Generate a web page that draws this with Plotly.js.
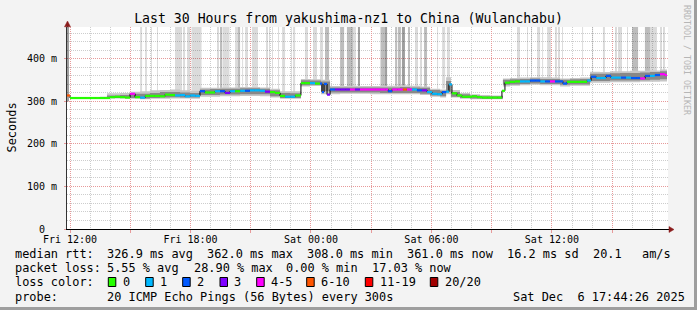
<!DOCTYPE html>
<html><head><meta charset="utf-8">
<script src="https://cdn.plot.ly/plotly-3.0.1.min.js"></script>
<style>html,body{margin:0;padding:0;background:#f3f3f3;overflow:hidden}#chart{width:697px;height:310px}</style>
</head><body><div id="chart"></div>
<script>
// ---------- data (hours since Fri 12:00) ----------
const tickHours = [0,3,6,9,12,15,18,21,24,27];
const tickLabels = ['Fri 12:00','','Fri 18:00','','Sat 00:00','','Sat 06:00','','Sat 12:00',''];
const yTickVals = [0,100,200,300,400];
const yTickLabels = ['0\u00a0\u00a0','100 m','200 m','300 m','400 m'];

const lossLabels = ['0','1','2','3','4-5','6-10','11-19','20/20'];
const lossColors = ['#26ff00','#00b8ff','#0059ff','#7e00ff','#ff00ff','#ff5500','#ff0000','#a10000'];

const dataEnd = 29.73;
const medianHours = [-0.15,0,0.25,0.50,0.75,1.00,1.25,1.49,1.74,1.99,2.24,2.49,2.74,2.99,3.24,3.49,3.74,3.98,4.23,4.48,4.73,4.98,5.23,5.48,5.73,5.98,6.23,6.47,6.72,6.97,7.22,7.47,7.72,7.97,8.22,8.47,8.72,8.96,9.21,9.46,9.71,9.96,10.21,10.46,10.71,10.96,11.21,11.50,11.70,11.95,12.20,12.45,12.55,12.65,12.80,12.95,13.20,13.45,13.70,13.94,14.19,14.44,14.69,14.94,15.19,15.44,15.69,15.84,16.04,16.29,16.58,16.78,17.03,17.28,17.53,17.78,18.03,18.28,18.53,18.73,18.87,19.02,19.27,19.52,19.77,20.02,20.27,20.52,20.77,21.02,21.27,21.51,21.66,21.91,22.16,22.41,22.66,22.91,23.16,23.41,23.66,23.90,24.15,24.40,24.55,24.75,25.00,25.25,25.50,25.75,25.95,26.20,26.44,26.69,26.94,27.19,27.44,27.69,27.94,28.19,28.39,28.64,28.88,29.13,29.38,29.63];
const medianMs = [314,308,308,308,308,308,308,308,308,310,311,310,309,318,310,309,313,313,313,312,316,315,314,315,312,314,313,324,321,321,324,324,320,324,324,325,325,326,326,325,323,322,320,313,311,311,314,343,343,343,342,342,322,341,316,328,328,328,328,328,328,328,328,328,328,328,328,324,328,328,328,328,328,326,326,322,318,317,322,323,340,319,314,311,311,312,310,309,309,309,309,325,344,346,347,347,347,349,349,347,347,347,347,347,342,346,346,346,346,349,358,355,355,360,356,356,356,356,355,355,354,360,360,362,364,362];
const medianLoss = [5,0,0,0,0,0,0,0,0,0,0,0,0,4,0,1,0,0,0,0,0,0,1,1,1,1,1,2,0,0,1,2,3,1,0,1,2,1,1,1,3,0,0,0,1,1,0,0,0,1,0,2,2,2,3,2,3,3,3,4,3,4,4,4,4,4,4,2,4,4,5,4,1,2,3,1,1,1,2,1,1,0,0,0,0,0,0,0,0,0,0,0,0,0,0,1,1,2,2,1,2,4,2,2,2,0,0,0,0,1,2,1,1,2,1,1,2,1,2,2,4,2,1,2,4,4];

const smokeHours = [0,0.50,1.00,1.49,1.84,2.49,3.04,3.49,3.98,4.48,4.98,5.48,5.98,6.47,6.97,7.47,7.97,8.47,8.96,9.46,9.96,10.46,10.96,11.50,11.95,12.50,12.95,13.45,13.94,14.44,14.94,15.44,15.94,16.43,16.93,17.43,17.93,18.43,18.73,18.97,19.42,19.92,20.42,20.92,21.56,21.91,22.41,22.91,23.41,23.90,24.40,24.90,25.40,25.90,26.39,26.89,27.39,27.89,28.39,28.88,29.38,29.73];
const smokeLow  = [306,306,306,306,307,307,306,305,306,306,307,307,306,311,311,312,312,313,313,312,309,306,306,335,336,317,317,318,318,318,317,317,317,317,317,315,311,309,317,309,306,305,305,305,335,337,338,339,338,338,335,337,337,344,344,345,345,345,346,346,347,347];
const smokeHigh = [310,310,310,311,319,320,323,324,326,327,328,326,325,332,332,333,333,334,334,333,330,324,324,353,352,351,336,336,337,336,336,337,337,338,337,335,330,328,357,327,320,317,315,314,354,355,356,357,357,356,354,355,356,370,369,371,371,372,372,373,375,374];
const coreLow   = [307,307,307,307,308,308,308,307,308,309,310,309,309,315,315,316,316,317,317,317,312,308,308,338,339,324,321,321,321,321,321,320,320,320,320,318,314,312,323,311,308,307,306,306,339,340,341,342,341,341,339,340,340,348,348,349,349,349,350,351,352,352];
const coreHigh  = [309,309,309,309,314,315,318,318,320,322,322,321,320,328,329,330,330,331,331,330,326,320,319,350,349,347,333,333,333,333,333,333,333,334,333,332,327,325,348,322,317,314,312,312,351,352,353,354,353,353,351,352,353,365,365,366,367,367,368,369,371,370];

const spikeStart = [-0.20,3.49,3.74,4.03,4.33,5.23,5.63,5.83,6.05,7.32,7.47,7.59,7.82,8.22,8.34,8.57,8.72,9.06,9.76,9.91,10.06,10.36,10.56,11.01,11.11,11.70,12.10,12.45,12.70,13.45,13.79,14.09,14.34,15.44,15.49,15.69,16.19,16.33,16.53,16.83,17.18,17.43,17.63,18.28,18.53,18.77,22.26,22.76,22.96,23.26,23.51,23.76,24.15,24.30,24.50,25.50,26.00,26.54,27.14,27.29,27.74,27.99,28.63,28.88,29.38,29.53];
const spikeEnd   = [-0.05,3.59,3.83,4.08,4.38,5.58,5.73,5.98,6.55,7.42,7.57,7.82,7.94,8.32,8.47,8.62,8.86,9.36,9.86,9.96,10.11,10.41,10.71,11.06,11.21,11.85,12.30,12.60,12.90,13.65,14.09,14.24,14.44,15.49,15.69,15.79,16.29,16.48,16.68,16.93,17.33,17.53,17.78,18.33,18.68,18.92,22.41,22.81,23.01,23.41,23.56,23.95,24.25,24.40,24.55,25.55,26.05,26.64,27.24,27.49,27.79,28.29,28.88,29.23,29.48,29.63];
const spikeBase  = [300,318,318,318,318,318,318,318,318,325,325,325,325,325,325,325,325,325,320,320,320,320,320,320,320,345,345,345,335,330,330,330,330,330,330,330,330,330,330,330,330,330,330,330,330,330,350,350,350,350,350,350,350,350,350,360,360,360,360,360,360,360,360,360,360,360];
const spikeShade = [2,0,0,0,0,0,0,0,0,0,1,0,0,0,1,0,0,0,0,0,0,0,0,0,0,0,0,0,1,1,1,0,2,0,1,2,1,1,2,1,0,0,1,0,0,0,0,0,0,0,0,0,0,0,0,0,0,0,0,0,0,1,1,0,0,0];

const titleText = 'Last 30 Hours from yakushima-nz1 to China (Wulanchabu)';
const rttTexts  = ['median rtt:','326.9 ms avg','362.0 ms max','308.0 ms min','361.0 ms now','16.2 ms sd','20.1','am/s'];
const lossTexts = ['packet loss:','5.55 % avg','28.90 % max','0.00 % min','17.03 % now'];
const probeTexts = ['probe:','20 ICMP Echo Pings (56 Bytes) every 300s','Sat Dec  6 17:44:26 2025'];
const colorTitle = 'loss color:';
const sideText = 'RRDTOOL / TOBI OETIKER';

// ---------- geometry helpers ----------
const L=67, R=668, T=27, B=229;
const px = x => (x-L)/(R-L);
const py = y => (B-y)/(B-T);
const MONO = 'DejaVu Sans Mono';

// ---------- traces ----------
const shadeCols = ['rgba(0,0,0,0.14)','rgba(0,0,0,0.26)','rgba(0,0,0,0.38)'];
const spikeTrace = {
  type:'bar',
  x: spikeStart.map((s,i)=>(s+spikeEnd[i])/2),
  width: spikeStart.map((s,i)=>spikeEnd[i]-s),
  base: spikeBase,
  y: spikeBase.map(b=>490-b),
  marker:{color: spikeShade.map(k=>shadeCols[k]), line:{width:0}},
  hoverinfo:'skip', showlegend:false
};
function band(lo, hi, col){
  return [
    {type:'scatter',mode:'lines',x:smokeHours,y:lo,line:{width:0,shape:'hv'},hoverinfo:'skip',showlegend:false},
    {type:'scatter',mode:'lines',x:smokeHours,y:hi,line:{width:0,shape:'hv'},fill:'tonexty',fillcolor:col,hoverinfo:'skip',showlegend:false}
  ];
}
const blackLine = {type:'scatter',mode:'lines',x:medianHours.concat([dataEnd]),y:medianMs.concat([medianMs[medianMs.length-1]]),
  line:{color:'#000',width:1,shape:'hv'},hoverinfo:'skip',showlegend:false};
const segTraces = lossColors.map(c=>({type:'scatter',mode:'lines',x:[],y:[],line:{color:c,width:2.2},hoverinfo:'skip',showlegend:false,connectgaps:false}));
medianHours.forEach((t,i)=>{
  const t1 = i+1<medianHours.length ? medianHours[i+1] : dataEnd;
  const tr = segTraces[medianLoss[i]];
  tr.x.push(t,t1,null); tr.y.push(medianMs[i],medianMs[i],null);
});
const traces = [spikeTrace, ...band(smokeLow,smokeHigh,'#c6c6c6'), ...band(coreLow,coreHigh,'#888888'), blackLine, ...segTraces];

// ---------- annotations ----------
const ann = [];
function txt(x,y,s,size,extra){
  ann.push(Object.assign({xref:'paper',yref:'paper',x:px(x),y:py(y),text:s,showarrow:false,xanchor:'left',yanchor:'middle',
    borderpad:0,borderwidth:0,font:{family:MONO,size:size||11.9,color:'#000'}},extra||{}));
}
const rttX = [16,107.3,207.3,307.3,407.7,507.7,593.3,642.3];
rttTexts.forEach((s,i)=>txt(rttX[i]-0.8,254.3,s));
const lossX = [16,107.3,194.5,286.5,372.7];
lossTexts.forEach((s,i)=>txt(lossX[i]-0.8,268.3,s));
txt(15.2,282.3,colorTitle);
const boxX = [108.3,145.7,182.7,220,256.7,306.7,365.3,430.3];
const shapes = [];
lossLabels.forEach((s,i)=>{
  shapes.push({type:'rect',xref:'paper',yref:'paper',x0:px(boxX[i]),x1:px(boxX[i]+7.5),y0:py(286.5),y1:py(277.5),
    fillcolor:lossColors[i],line:{color:'#000',width:1}});
  txt(boxX[i]+14.2,282.3,s);
});
const probeX = [16,107.3,513.3];
probeTexts.forEach((s,i)=>txt(probeX[i]-0.8,296.5,s));
// y title
ann.push({xref:'paper',yref:'paper',x:px(11),y:py(127.5),text:'Seconds',showarrow:false,textangle:-90,
  xanchor:'center',yanchor:'middle',font:{family:MONO,size:11.9,color:'#000'}});
// side text
ann.push({xref:'paper',yref:'paper',x:px(687),y:py(60),text:sideText,showarrow:false,textangle:90,
  xanchor:'center',yanchor:'middle',font:{family:MONO,size:8.3,color:'#b6b6b6'}});

// frame & arrows
shapes.push({type:'rect',xref:'paper',yref:'paper',x0:px(694),x1:px(698),y0:py(311),y1:py(-1),fillcolor:'#9e9e9e',line:{width:0},layer:'above'});
shapes.push({type:'rect',xref:'paper',yref:'paper',x0:px(-1),x1:px(698),y0:py(311),y1:py(307),fillcolor:'#9e9e9e',line:{width:0},layer:'above'});
shapes.push({type:'line',xref:'paper',yref:'paper',x0:px(67.5),x1:px(67.5),y0:py(27),y1:py(23),line:{color:'#333',width:1}});
shapes.push({type:'line',xref:'paper',yref:'paper',x0:px(668),x1:px(670),y0:py(229.5),y1:py(229.5),line:{color:'#000',width:1}});
shapes.push({type:'path',xref:'paper',yref:'paper',
  path:`M ${px(64.5)} ${py(26.8)} L ${px(67.5)} ${py(21)} L ${px(70.5)} ${py(26.8)} Z`,fillcolor:'#8b1c1c',line:{color:'#8b1c1c',width:0.5}});
shapes.push({type:'path',xref:'paper',yref:'paper',
  path:`M ${px(669)} ${py(226.5)} L ${px(674)} ${py(229.5)} L ${px(669)} ${py(232.5)} Z`,fillcolor:'#8b1c1c',line:{color:'#8b1c1c',width:0.5}});

const MAJ = '#e79a9a', MIN = '#cdcdcd';
const layout = {
  width:697,height:310,
  margin:{l:L,r:697-R,t:T,b:310-B,pad:0},
  paper_bgcolor:'#f3f3f3',plot_bgcolor:'#ffffff',
  font:{family:MONO,size:10,color:'#000'},
  showlegend:false, barmode:'overlay', hovermode:false,
  title:{text:titleText,font:{family:MONO,size:13.2,color:'#000'},x:0.5,xref:'container',xanchor:'center',
    y:1-18.5/310,yref:'container',yanchor:'middle'},
  xaxis:{type:'linear',range:[-0.15,29.78],tickmode:'array',tickvals:tickHours,ticktext:tickLabels,
    showgrid:true,gridcolor:MAJ,griddash:'1px,1px',gridwidth:1,zeroline:false,
    showline:true,linecolor:'#000',linewidth:1,ticks:'outside',ticklen:3,tickcolor:MAJ,ticklabelstandoff:-2,
    tickfont:{family:MONO,size:10,color:'#000'},
    minor:{tickmode:'linear',tick0:0,dtick:1,showgrid:true,gridcolor:MIN,griddash:'1px,1px',gridwidth:1,ticks:''},
    fixedrange:true},
  yaxis:{range:[0,475],tickmode:'array',tickvals:yTickVals,ticktext:yTickLabels,
    showgrid:true,gridcolor:MAJ,griddash:'1px,1px',gridwidth:1,zeroline:false,
    showline:true,linecolor:'#333',linewidth:1,ticks:'outside',ticklen:2,tickcolor:MAJ,ticklabelstandoff:5,
    tickfont:{family:MONO,size:10,color:'#000'},
    minor:{tickmode:'linear',tick0:0,dtick:20,showgrid:true,gridcolor:MIN,griddash:'1px,1px',gridwidth:1,ticks:''},
    fixedrange:true},
  annotations:ann, shapes:shapes
};
Plotly.newPlot('chart',traces,layout,{staticPlot:true,displayModeBar:false});
</script></body></html>
